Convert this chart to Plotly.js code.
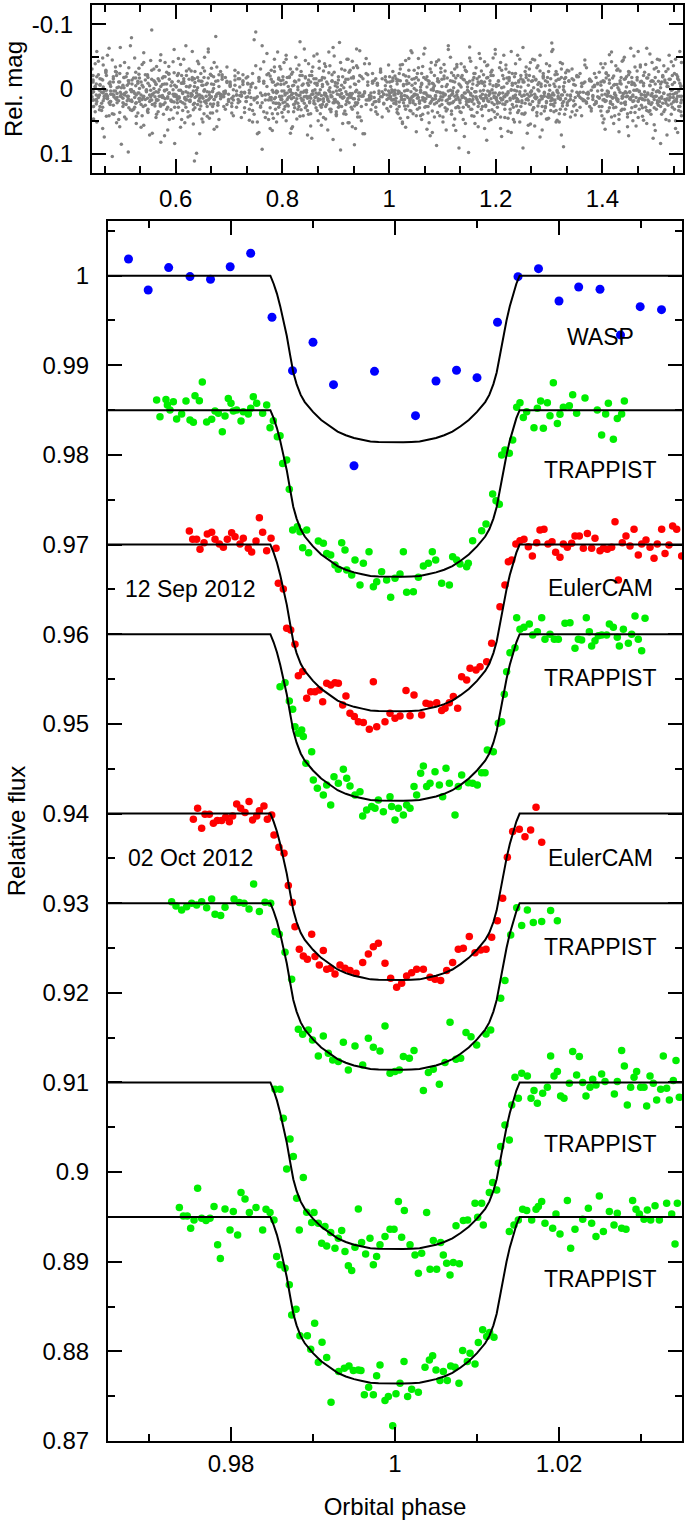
<!DOCTYPE html>
<html><head><meta charset="utf-8">
<script src="https://cdn.plot.ly/plotly-3.0.1.min.js"></script>
<style>html,body{margin:0;padding:0;background:#fff}</style></head>
<body><div id="chart" style="width:689px;height:1520px"></div>
<script>
// ---- Top panel: WASP folded photometry (phase, relative magnitude) ----
const phaseTop = [.443,.445,.446,.449,.451,.452,.455,.457,.458,.461,.463,.464,.466,.469,.47,.472,.475,.477,.478,.481,
.483,.484,.487,.489,.49,.493,.495,.496,.498,.501,.503,.504,.507,.509,.511,.512,.515,.517,.518,.521,
.523,.525,.526,.529,.531,.532,.535,.537,.539,.54,.543,.545,.547,.548,.551,.553,.555,.556,.559,.561,
.563,.564,.567,.569,.571,.572,.575,.577,.579,.58,.583,.585,.587,.588,.591,.593,.595,.597,.598,.601,
.603,.605,.606,.609,.611,.613,.615,.617,.619,.62,.623,.625,.627,.629,.631,.633,.635,.636,.639,.641,
.643,.645,.647,.649,.651,.653,.654,.657,.659,.661,.663,.665,.667,.669,.671,.672,.675,.677,.679,.681,
.684,.687,.69,.693,.696,.699,.702,.705,.708,.711,.714,.717,.72,.723,.726,.729,.732,.735,.738,.741,
.744,.747,.75,.753,.756,.759,.762,.765,.768,.771,.774,.777,.779,.781,.783,.785,.787,.789,.791,.793,
.795,.797,.799,.801,.803,.805,.807,.809,.811,.813,.815,.817,.819,.821,.823,.825,.827,.829,.831,.833,
.835,.837,.839,.841,.843,.845,.847,.849,.851,.853,.855,.857,.859,.861,.863,.865,.867,.869,.871,.873,
.875,.877,.879,.881,.883,.885,.887,.889,.891,.893,.895,.897,.899,.901,.903,.905,.907,.909,.911,.913,
.915,.917,.919,.921,.923,.925,.927,.929,.931,.933,.935,.937,.939,.941,.943,.945,.948,.951,.954,.957,
.96,.963,.966,.969,.972,.975,.978,.981,.984,.987,.99,.993,.996,.999,1.001,1.003,1.005,1.007,1.009,1.011,
1.013,1.015,1.017,1.019,1.021,1.023,1.025,1.027,1.029,1.031,1.033,1.035,1.037,1.039,1.041,1.043,1.045,1.047,1.049,1.051,
1.053,1.055,1.057,1.059,1.061,1.063,1.065,1.067,1.069,1.071,1.073,1.075,1.077,1.079,1.081,1.083,1.085,1.087,1.089,1.091,
1.093,1.095,1.097,1.099,1.101,1.103,1.105,1.107,1.109,1.111,1.113,1.115,1.117,1.119,1.121,1.123,1.125,1.127,1.129,1.131,
1.133,1.135,1.137,1.139,1.141,1.143,1.145,1.147,1.149,1.151,1.153,1.155,1.157,1.159,1.161,1.163,1.165,1.167,1.169,1.171,
1.173,1.175,1.177,1.179,1.181,1.183,1.185,1.187,1.189,1.191,1.193,1.195,1.197,1.199,1.201,1.203,1.205,1.207,1.209,1.211,
1.213,1.215,1.217,1.219,1.221,1.223,1.225,1.227,1.229,1.231,1.233,1.235,1.237,1.239,1.241,1.243,1.245,1.247,1.249,1.251,
1.253,1.255,1.257,1.259,1.261,1.263,1.265,1.267,1.269,1.271,1.273,1.275,1.277,1.279,1.281,1.283,1.285,1.287,1.289,1.291,
1.293,1.295,1.297,1.299,1.301,1.303,1.305,1.307,1.309,1.311,1.313,1.315,1.317,1.319,1.321,1.323,1.325,1.327,1.329,1.331,
1.334,1.337,1.34,1.343,1.346,1.349,1.352,1.355,1.358,1.361,1.364,1.367,1.37,1.373,1.376,1.379,1.382,1.385,1.388,1.391,
1.394,1.397,1.399,1.401,1.403,1.405,1.407,1.409,1.411,1.413,1.415,1.417,1.419,1.421,1.423,1.425,1.427,1.429,1.431,1.433,
1.435,1.437,1.439,1.441,1.443,1.445,1.447,1.449,1.451,1.453,1.455,1.457,1.459,1.461,1.463,1.465,1.467,1.469,1.471,1.473,
1.475,1.477,1.479,1.481,1.483,1.485,1.487,1.489,1.491,1.493,1.495,1.497,1.499,1.501,1.503,1.505,1.507,1.509,1.511,1.513,
1.515,1.517,1.519,1.521,1.523,1.525,1.527,1.529,1.531,1.533,1.535,1.537,1.539,1.541,1.543,1.545,1.547,1.548];

const magA = [.012,-.021,.004,.035,-.008,.019,-.043,.002,.027,-.015,.061,-.003,.014,-.029,.008,-.052,.021,-.011,.003,.038,
-.019,.009,-.034,.016,-.002,.047,-.024,.011,.085,-.006,.023,-.041,.005,.018,-.013,.029,-.067,.001,.033,-.017,
.007,-.026,.042,-.009,.015,-.001,.024,-.038,.012,.056,-.014,.003,-.022,.031,-.005,.017,-.091,.009,-.031,.022,
.004,.039,-.016,.011,-.044,.026,-.007,.013,.072,-.019,.001,.028,-.035,.006,.018,-.011,.045,-.025,.008,-.003,
.021,-.047,.014,.002,-.021,.033,-.009,.052,.017,-.028,.006,-.015,.041,.011,-.058,.024,-.004,.013,.099,-.018,
.009,.031,-.012,.046,-.033,.003,.019,-.007,.027,-.062,.015,.037,-.021,.004,.023,-.041,.011,.058,-.013,.006,
.015,-.022,.008,.031,-.012,.019,-.004,.027,.011,-.029,.003,.021,-.016,.009,-.007,.036,.013,-.019,.006,.024,
-.024,.039,-.088,.012,.067,-.031,.021,-.009,.044,-.055,.017,.029,-.015,.038,.005,-.027,.013,.051,-.008,.022,
-.035,.016,.003,-.019,.031,.009,-.046,.024,-.004,.012,.068,-.023,.007,.035,-.012,.019,-.031,.001,.027,-.073,
.014,-.006,.041,.022,-.017,.005,.033,-.039,.011,.057,-.021,.003,.018,-.009,.029,-.054,.015,.006,.038,-.014,
.024,-.028,.009,.046,-.011,.017,.002,-.036,.031,.012,-.064,.021,-.005,.039,.008,-.019,.026,.094,-.031,.013,
-.002,.034,-.015,.019,.052,-.026,.007,.028,-.043,.015,-.008,.061,.024,-.033,.011,.043,-.019,.069,.006,-.047,
-.011,.017,.006,-.024,.013,.028,-.008,.019,-.031,.004,.022,-.014,.009,.034,-.019,.012,.001,-.027,.016,.007,
.023,-.012,.038,.004,-.031,.016,.051,-.007,.026,-.044,.011,.002,-.019,.033,.014,-.056,.021,.008,-.009,.041,
-.024,.013,.029,-.003,.047,-.035,.006,.019,-.015,.062,.027,-.008,.011,-.041,.034,.002,-.021,.015,.087,-.012,
.018,.005,-.032,.024,.043,-.016,.009,-.004,.031,-.067,.014,.022,-.025,.007,.056,-.011,.029,-.038,.003,.017,
-.006,.036,-.021,.012,.073,-.029,.019,-.003,.027,-.048,.009,.041,-.014,.023,.004,-.033,.016,.058,-.019,.011,
.031,-.009,.002,-.042,.025,.014,-.018,.049,.007,-.026,.021,-.005,.035,-.061,.013,.028,-.012,.006,.043,-.029,
.016,-.003,.024,-.037,.009,.065,-.018,.031,.001,-.024,.047,.012,-.009,.026,-.052,.019,.004,-.016,.038,.091,
-.011,.022,-.034,.008,.017,-.021,.054,.003,-.013,.029,-.045,.015,.036,-.007,.021,-.028,.011,.063,-.017,.005,
.027,-.039,.012,.045,-.006,.018,-.071,.024,.009,-.022,.033,.002,-.015,.051,.014,-.031,.026,-.004,.039,-.018,
.021,-.028,.009,.035,-.014,.024,.005,-.019,.013,.041,-.009,.018,-.033,.007,.027,-.012,.016,-.004,.022,.003,
-.026,.034,.009,-.013,.046,-.039,.018,.003,-.021,.029,.011,-.057,.024,-.006,.041,.013,-.029,.019,.066,-.009,
.022,-.043,.007,.031,-.016,.012,.058,-.027,.004,.036,-.011,.019,-.051,.027,.002,-.018,.044,.015,-.034,.009,
.029,-.005,.017,-.038,.053,.008,-.022,.033,-.012,.021,.076,-.031,.011,.004,-.046,.025,.014,-.008,.039,-.019,
.006,.032,-.027,.015,-.004,.049,-.015,.023,.001,-.036,.018,.061,-.022,.011,.027,-.009,.035,-.041];

const magB = [-.031,.017,.046,-.004,.023,-.058,.011,.032,-.016,.005,.028,-.037,.074,.009,-.021,.014,.041,-.007,.019,-.045,
.025,.003,-.027,.052,.013,-.011,.036,-.064,.008,.021,-.002,.043,-.019,.011,.097,-.033,.018,.004,-.014,.031,
-.048,.022,.009,.037,-.023,.014,.059,-.006,.027,-.041,.016,.002,.034,-.018,.071,.012,-.029,.024,.006,-.011,
.044,-.035,.017,.001,.026,-.053,.013,.039,-.008,.021,-.026,.063,.007,-.015,.032,.019,-.042,.011,.084,-.004,
-.021,.028,.012,-.038,.047,.005,-.012,.023,-.067,.016,.035,-.003,.019,-.028,.009,.054,-.016,.029,.002,-.043,
.018,.069,-.024,.011,-.006,.038,-.049,.022,.004,-.017,.045,.013,-.032,.027,-.001,.016,-.081,.034,.007,-.022,
-.027,.012,.004,-.018,.024,.008,-.011,.037,.017,-.006,.028,-.016,.010,.044,-.022,.005,.019,-.009,.031,-.003,
.033,-.076,.014,.051,-.018,.026,.093,-.042,.008,.037,-.024,.061,.017,-.011,.045,-.034,.022,.003,-.057,.028,
.012,-.013,.036,.021,-.041,.007,.049,-.018,.026,.002,-.031,.015,.058,-.006,.023,-.049,.009,.031,-.014,.042,
-.027,.018,.005,-.062,.029,.011,-.009,.039,-.021,.014,.076,-.034,.022,.001,-.016,.033,.008,-.043,.025,.056,
-.007,.019,-.039,.027,.011,.063,-.025,.004,.035,-.013,.021,-.051,.016,.041,-.003,.028,-.072,.012,.007,-.019,
.038,-.011,.024,-.046,.014,.052,-.029,.009,.031,-.017,.086,.021,-.036,.043,.006,-.059,.027,.011,.069,-.024,
.017,-.039,.011,.024,-.013,.035,-.006,.016,-.026,.043,.008,-.019,.030,.003,-.011,.015,.005,-.017,.022,.009,
-.016,.031,.007,-.024,.045,.012,-.038,.021,.003,.059,-.013,.026,-.047,.016,.034,-.006,.018,-.029,.009,.066,
.014,-.033,.022,.041,-.009,.017,-.054,.028,.006,-.019,.037,.011,.072,-.026,.015,-.002,.043,-.037,.021,.004,
-.045,.026,.012,-.015,.051,.008,-.028,.034,.017,-.061,.023,.002,.039,-.012,.019,-.031,.064,.009,-.021,.029,
.035,-.018,.013,.047,-.034,.006,.024,-.009,.098,.016,-.043,.031,.011,-.024,.053,.004,-.016,.027,-.055,.012,
-.028,.041,.015,-.011,.027,.079,-.037,.019,.004,-.021,.032,-.048,.013,.044,-.007,.022,.009,-.033,.061,.017,
.023,-.052,.031,.008,-.017,.045,-.026,.014,.067,-.009,.028,.002,-.039,.019,.036,-.013,.051,-.021,.011,-.064,
.009,.037,-.022,.016,.056,-.031,.024,.003,-.046,.029,.013,-.014,.041,-.036,.018,.074,-.008,.027,-.019,.034,
-.013,.021,.046,-.027,.011,.033,-.058,.017,.026,-.004,.051,-.023,.014,.038,-.041,.009,.022,.089,-.016,.031,
-.029,.018,.043,-.016,.026,-.006,.033,.010,-.024,.015,.005,-.037,.020,.008,-.013,.030,-.003,.024,-.018,.012,
.014,-.039,.027,.052,-.011,.019,-.024,.035,.006,-.053,.022,.043,-.017,.029,.008,-.036,.015,-.002,.047,-.028,
.033,.011,-.045,.021,.004,-.019,.038,.072,-.026,.013,-.007,.049,.018,-.034,.026,.001,-.058,.031,.014,-.012,
.042,-.021,.009,.028,-.063,.017,.035,-.006,.024,-.041,.012,.055,-.018,.031,.003,-.027,.019,.084,-.011,.022,
-.036,.016,.047,-.009,.025,-.052,.013,.039,-.021,.008,.031,-.046,.019,.067,-.014,.027,-.004,.041];

const magC = [.006,-.014,.027,-.039,.016,.051,-.022,.009,-.006,.033,-.048,.018,.003,-.027,.042,.011,-.063,.024,.008,.104,
-.011,.039,.014,-.026,.021,-.003,.058,-.036,.012,.027,-.018,.007,.046,-.024,.015,-.009,.032,-.079,.019,.004,
.028,-.017,.053,.006,-.032,.019,-.011,.041,.013,-.056,.025,.001,-.021,.036,.009,-.044,.017,.068,-.013,.026,
-.008,.016,.035,-.029,.011,.082,-.017,.024,.002,-.041,.031,.014,-.023,.047,-.005,.019,.008,-.061,.028,.012,
.037,-.024,.013,.059,-.009,.021,-.046,.015,.028,-.004,.043,-.031,.017,.007,-.018,.032,.111,-.027,.011,.024,
-.039,.014,.026,-.012,.051,.003,-.028,.018,.042,-.057,.009,.023,-.008,.037,-.019,.062,.012,-.034,.021,.047,
.011,-.019,.027,.006,-.034,.016,-.008,.022,.041,-.014,.009,-.025,.019,.005,-.011,.029,-.017,.012,.048,-.007,
.051,.017,-.036,.069,-.012,.028,-.067,.035,.009,-.022,.047,.013,-.029,.064,.021,-.046,.031,.006,.038,-.015,
.024,-.031,.011,.043,-.008,.027,-.052,.016,.035,-.019,.004,.061,-.026,.013,.029,-.011,.046,.022,-.037,.009,
.032,-.021,.017,.003,-.044,.026,.071,-.014,.019,.038,-.027,.008,-.051,.023,.012,-.006,.049,-.032,.016,.028,
-.018,.044,.006,-.035,.024,.015,-.057,.031,.009,-.012,.078,-.026,.019,.035,-.009,.022,.002,-.041,.027,.053,
.013,-.029,.039,.008,-.046,.021,.011,-.017,.058,-.033,.026,.004,-.062,.037,.016,-.021,.049,.009,-.039,.024,
-.022,.014,.032,-.009,.020,-.016,.039,.007,-.028,.012,.023,-.005,.016,-.037,.010,.027,-.012,.017,.003,-.020,
.019,.036,-.014,.027,-.037,.011,.053,-.022,.016,.031,-.008,.044,-.029,.021,-.059,.012,.038,-.016,.024,.002,
.031,-.047,.018,.005,-.024,.039,.014,-.063,.027,.009,-.013,.052,-.031,.019,.067,-.008,.023,.011,-.042,.036,
-.012,.041,-.026,.017,.006,-.038,.029,.063,-.017,.022,.011,-.049,.034,.003,-.021,.046,.016,-.034,.027,.091,
.021,-.039,.011,.028,-.014,.053,-.027,.017,.004,-.065,.031,.019,-.008,.042,-.024,.013,.036,-.011,.022,-.047,
.014,.027,-.022,.061,.009,-.036,.018,.033,-.013,.047,-.029,.006,.024,-.054,.016,.039,-.006,.021,-.041,.073,
-.021,.012,.044,-.031,.019,.006,-.016,.037,-.058,.024,.011,.051,-.024,.014,-.004,.033,-.046,.027,.018,-.011,
.039,-.027,.016,.068,-.014,.023,-.041,.009,.032,-.019,.057,.012,-.033,.026,.003,-.052,.038,.015,-.024,.011,
.029,.046,-.018,.013,-.036,.024,.009,-.061,.035,.017,-.027,.048,.006,-.015,.031,.071,-.039,.019,.004,-.025,
.025,-.013,.011,-.031,.018,.040,-.021,.007,.028,-.009,.016,-.045,.022,.005,-.015,.034,.010,-.024,.019,-.008,
.027,-.011,.041,-.033,.016,.062,-.025,.009,.034,-.014,.021,-.042,.013,.053,-.007,.028,.017,-.031,.039,.005,
-.018,.031,.012,-.049,.024,.006,.043,-.022,.015,-.063,.029,.011,-.009,.036,.057,-.028,.019,.004,-.037,.025,
.016,.048,-.026,.011,.033,-.017,.022,-.054,.039,.007,-.012,.029,.064,-.033,.018,.003,-.045,.027,.012,-.021,
.035,-.014,.022,.071,-.031,.017,.008,-.042,.028,.013,-.024,.049,.006,-.019,.033,-.058,.021,.011];

const magD = [.004,-.011,.017,-.003,.009,-.019,.013,.001,-.007,.022,-.014,.006,.011,-.025,.002,.015,-.009,.019,-.004,.008,
-.016,.012,.003,-.021,.007,.018,-.011,.005,-.002,.014,-.018,.009,.024,-.006,.011,-.013,.001,.017,-.008,.004,
.013,-.005,.021,-.012,.006,-.017,.009,.016,-.003,.011,-.022,.004,.014,-.009,.019,.002,-.015,.008,-.001,.012,
-.007,.018,.005,-.013,.023,-.004,.010,-.019,.003,.015,-.008,.012,-.024,.006,.017,-.011,.001,.020,-.006,.009,
.016,-.012,.002,.019,-.009,.007,-.016,.013,.004,-.021,.011,.018,-.005,.008,-.014,.003,.022,-.010,.006,-.002,
-.013,.009,.020,-.006,.014,-.018,.001,.011,-.009,.017,.005,-.023,.012,.003,-.007,.016,-.012,.008,.025,-.004,
.008,-.015,.012,.003,-.010,.018,-.006,.014,.001,-.020,.009,.016,-.003,.011,-.013,.006,.019,-.008,.002,.013,
-.009,.014,-.002,.021,-.016,.006,.010,-.012,.017,-.004,.008,-.020,.013,.002,-.011,.015,-.006,.022,.004,-.017,
.011,-.007,.016,-.014,.003,.020,-.010,.006,.013,-.018,.001,.009,-.005,.024,-.012,.007,.015,-.003,.010,-.021,
.005,.017,-.008,.012,-.019,.002,.014,-.006,.021,-.011,.008,.003,-.016,.013,.006,-.009,.018,-.013,.001,.010,
-.004,.015,-.017,.007,.011,-.008,.019,-.002,.012,-.022,.005,.016,-.010,.003,.020,-.014,.009,.001,-.006,.014,
.012,-.010,.004,.018,-.015,.009,-.003,.013,.007,-.019,.015,-.007,.002,.021,-.012,.006,.011,-.016,.004,.017,
-.006,.010,.015,-.012,.005,.019,-.009,.003,.012,-.016,.008,.001,-.011,.014,.006,-.004,.017,-.013,.009,.002,
.014,-.008,.003,.020,-.013,.007,.016,-.005,.010,-.020,.002,.013,-.009,.018,.004,-.015,.011,-.001,.008,-.018,
.009,-.014,.019,.002,-.007,.013,-.018,.006,.015,-.003,.011,-.012,.022,.001,-.009,.016,-.005,.010,.004,-.016,
-.011,.016,.006,-.004,.012,-.020,.008,.018,-.007,.003,.014,-.013,.009,.021,-.002,.011,-.017,.005,.013,-.008,
.017,-.003,.010,-.015,.006,.014,-.010,.002,.019,-.012,.007,-.001,.016,-.018,.004,.012,-.006,.020,-.009,.003,
-.012,.008,.018,-.005,.013,-.017,.003,.010,-.008,.015,.001,-.021,.011,.006,-.004,.019,-.013,.007,.014,-.002,
.006,-.016,.012,.020,-.009,.004,-.013,.017,.002,-.006,.014,-.019,.009,.003,.016,-.011,.008,-.003,.021,-.014,
.010,.003,-.018,.015,-.006,.011,.005,-.012,.019,-.002,.008,-.015,.013,.001,-.010,.017,-.004,.012,-.020,.007,
-.005,.019,-.011,.008,.002,-.016,.014,.006,-.008,.021,-.013,.004,.011,-.003,.016,-.018,.009,.001,-.010,.015,
.009,-.012,.016,.003,-.007,.013,-.019,.010,.005,-.004,.018,-.011,.007,.014,-.015,.002,.012,-.006,.020,-.009,
.013,-.006,.002,.017,-.012,.008,-.017,.011,.004,-.009,.019,-.002,.014,-.020,.006,.010,-.007,.016,.001,-.013,
-.008,.014,.007,-.015,.020,-.003,.011,-.010,.005,.016,-.018,.009,.002,-.006,.013,-.014,.018,.003,-.011,.008,
.015,-.009,.004,.012,-.017,.006,.019,-.005,.010,-.013,.001,.016,-.008,.011,.022,-.012,.005,-.002,.014,-.019,
.007,-.011,.018,-.004,.009,-.015,.013,.002,-.007,.020,-.010,.006,.015,-.016,.003,.011,-.005,.017];

const topTickVals = [-0.1, 0, 0.1];
const topTickText = ["-0.1", "0", "0.1"];

// ---- Bottom panel: transit light curves (orbital phase, relative flux) ----
const waspPhase = [0.9675,0.9699,0.9724,0.975,0.9775,0.9799,0.9824,0.985,0.9875,0.99,0.9925,0.995,0.9975,1.0025,1.005,1.0075,1.01,1.0125,1.015,1.0175,1.02,1.0224,1.025,1.0275,1.0299,1.0325];
const waspFlux = [1.00186,0.9984,1.0009,0.9999,0.9996,1.001,1.0025,0.99536,0.9894,0.99257,0.98784,0.9788,0.98933,0.98438,0.98825,0.98945,0.98862,0.9948,0.99989,1.00078,0.99718,0.99874,0.99848,0.99339,0.99654,0.99621];

const trap1Phase = [0.97093,0.97134,0.97207,0.97224,0.97256,0.97297,0.97337,0.97398,0.97451,0.975,0.97541,0.97561,0.97614,0.9765,0.97703,0.97764,0.97805,0.97846,0.97894,0.97927,0.97967,0.98,0.98028,0.98069,0.98122,0.9815,0.98211,0.9824,0.98272,0.98313,0.98386,0.98435,0.98476,0.98516,0.98565,0.98598,0.9863,0.98679,
0.98711,0.98752,0.98809,0.98841,0.98874,0.98923,0.98947,0.99065,0.99126,0.99167,0.99216,0.99268,0.99309,0.9935,0.9939,0.99411,0.99472,0.99512,0.99573,0.99614,0.99683,0.99736,0.99777,
0.99837,0.99898,0.99947,1.0,1.00061,1.00102,1.00142,1.00224,1.00285,1.00346,1.00407,1.00455,1.00496,1.00569,1.00663,1.00703,1.00752,1.00793,1.00874,1.00894,1.00947,1.01057,1.0111,1.01191,1.01232,1.01272,
1.01301,1.01341,1.01394,1.01435,1.01484,1.01524,1.01565,1.01606,1.01695,1.01736,1.01776,1.01809,1.01858,1.0189,1.01931,1.0198,1.02012,1.02053,1.02126,1.02167,1.02215,1.02317,1.02467,1.0252,1.02569,1.02602,1.02663,1.02711,1.02764,1.02797];
const trap1Flux = [0.98613,0.98427,0.9862,0.98557,0.98501,0.98594,0.98401,0.98456,0.98602,0.9839,0.98364,0.98661,0.98605,0.98813,0.98367,0.98397,0.9849,0.98464,0.98259,0.98434,0.98631,0.98576,0.9849,0.98501,0.98378,0.98483,0.98456,0.9852,0.9865,0.98576,0.98464,0.98557,0.98304,0.98382,0.98204,0.98215,0.97906,0.97943,
0.97616,0.97163,0.972,0.97144,0.96966,0.97163,0.9691,0.9704,0.97014,0.96902,0.96884,0.96772,0.96724,0.97021,0.9694,0.96717,0.96661,0.96828,0.96549,0.96791,0.96921,0.96531,0.96586,
0.96698,0.96605,0.96412,0.96624,0.96672,0.96921,0.96467,0.96475,0.96635,0.96761,0.96791,0.96921,0.96828,0.96568,0.96549,0.96865,0.96828,0.96783,0.96754,0.96791,0.97044,0.97155,0.9723,0.97564,0.9749,0.97449,
0.97999,0.98055,0.98018,0.98167,0.98531,0.98583,0.98419,0.98483,0.98304,0.9852,0.98602,0.98297,0.98583,0.98438,0.98806,0.98352,0.98453,0.98531,0.9855,0.98672,0.98464,0.98635,0.98501,0.98222,0.98456,0.98576,0.98174,0.98408,0.98456,0.98602];

const euler1Phase = [0.97492,0.97533,0.97581,0.97622,0.97671,0.97711,0.97764,0.97805,0.97858,0.97907,0.97955,0.98008,0.98049,0.9811,0.9815,0.98211,0.98252,0.98305,0.98346,0.98386,0.98435,0.98488,0.98549,
0.98577,0.98638,0.98679,0.98728,0.9878,0.98821,0.98874,0.98923,0.98972,0.99024,0.99077,0.99118,0.99167,0.99216,0.99268,0.99309,0.99362,0.99402,0.99451,0.99504,0.99553,0.99614,0.99687,0.99736,0.99777,
0.99878,0.99939,1.0,1.00061,1.00134,1.00183,1.00232,1.00325,1.00378,1.00427,1.00508,1.00569,1.0061,1.00663,1.00711,1.00764,1.00813,1.00874,1.00915,1.00988,1.01037,1.01118,1.01179,1.0128,1.01341,1.01382,1.01423,
1.01474,1.01524,1.01573,1.01626,1.01675,1.01728,1.01768,1.01817,1.01866,1.01915,1.01959,1.02012,1.02053,1.02102,1.02154,1.02195,1.02248,1.02297,1.02346,1.02398,1.02439,1.025,1.02541,1.02589,1.02642,1.02683,1.02724,1.02772,1.02817,1.02866,1.02915,1.02967,1.03008,1.03061,1.0311,1.03159,1.03199,1.03252,1.03293,1.03341,1.03386,1.03435,1.03496];
const euler1Flux = [0.97152,0.97059,0.97059,0.96947,0.97021,0.97118,0.97137,0.97059,0.97007,0.96969,0.97059,0.97133,0.97088,0.97007,0.9707,0.96958,0.96917,0.9704,0.973,0.97137,0.96932,0.9707,0.96958,
0.96568,0.96505,0.96066,0.96047,0.95887,0.95538,0.95583,0.95285,0.95359,0.95359,0.95378,0.95248,0.95452,0.95434,0.9546,0.95452,0.95211,0.95311,0.95118,0.95081,0.95025,0.95014,0.94939,0.95471,0.94969,
0.95025,0.95118,0.95062,0.95088,0.95371,0.95092,0.95322,0.95099,0.95229,0.95218,0.95237,0.95148,0.95174,0.95237,0.95304,0.95174,0.95527,0.9549,0.9562,0.95601,0.95638,0.95694,0.95899,0.96308,0.96549,0.9681,0.96828,
0.97007,0.97044,0.97059,0.96977,0.96873,0.97021,0.97163,0.9717,0.97007,0.97033,0.96914,0.96858,0.97007,0.96969,0.97014,0.97096,0.97096,0.96958,0.97125,0.96958,0.9707,0.96932,0.96958,0.96947,0.96969,0.97256,0.96605,0.97021,0.97096,0.96984,0.9717,0.96884,0.97007,0.97051,0.96969,0.96847,0.97007,0.9717,0.96902,0.96995,0.97207,0.9717,0.96873];

const trap2Phase = [0.98598,0.98659,0.98711,0.98752,0.9878,0.98821,0.98862,0.98882,0.98913,0.98984,0.99004,0.99053,0.99126,0.99167,0.99216,0.99256,0.99309,0.9937,0.99411,0.99451,0.99512,0.99573,0.99606,0.99654,0.99715,0.99756,0.99797,0.99858,0.99939,0.99959,
1.0,1.00041,1.00102,1.00142,1.00183,1.00232,1.00264,1.00313,1.00346,1.00386,1.00427,1.00488,1.00541,1.00581,1.00622,1.00663,1.00732,1.00772,1.00813,1.00894,1.00947,1.01004,1.01057,1.01098,1.01126,1.01199,1.0126,1.01301,1.01333,1.01362,
1.01402,1.01463,1.01484,1.01524,1.01573,1.01638,1.01679,1.01736,1.01789,1.01829,1.0189,1.01943,1.01992,1.02073,1.02134,1.02195,1.02236,1.02276,1.02333,1.0237,1.02398,1.02439,1.0248,1.0252,1.02581,1.02614,1.02663,1.02711,1.02736,1.02785,1.02846,1.02886,1.02927,1.02967,1.03008,1.03049];
const trap2Flux = [0.95415,0.9546,0.95255,0.95162,0.94969,0.94895,0.94932,0.94858,0.9456,0.9469,0.94374,0.94281,0.94207,0.94318,0.94095,0.94411,0.94337,0.94493,0.94393,0.94307,0.94207,0.94244,0.93973,0.9404,0.94077,0.94058,0.94151,0.94021,0.94188,0.94077,
0.93928,0.94058,0.93984,0.94095,0.94058,0.943,0.94207,0.94449,0.9453,0.943,0.94337,0.94467,0.94318,0.94188,0.94504,0.94337,0.93984,0.943,0.9443,0.94344,0.94337,0.94318,0.94456,0.94456,0.94709,0.9469,0.95006,0.95025,0.9533,0.95582,
0.95794,0.9585,0.96185,0.96055,0.96077,0.96114,0.95992,0.96029,0.96185,0.95943,0.96,0.95943,0.95943,0.96122,0.96129,0.95843,0.95943,0.95936,0.96185,0.96029,0.95869,0.95928,0.95984,0.95992,0.95992,0.96114,0.96077,0.95966,0.95869,0.96055,0.95899,0.96,0.96204,0.95943,0.95817,0.96178];

const euler2Phase = [0.97541,0.97593,0.97642,0.97683,0.97736,0.97785,0.97833,0.97886,0.97935,0.9798,0.9802,0.98069,0.98118,0.98171,0.9822,0.98264,0.98313,0.98346,0.98402,0.98443,0.98496,
0.98524,0.98585,0.98646,0.98699,0.98748,0.9878,0.98833,0.98882,0.98931,0.98984,0.99024,0.99077,0.99126,0.99167,0.99216,0.99268,0.99329,0.9939,0.99451,0.99525,0.99606,0.99675,0.99736,0.99797,0.99878,0.99947,
1.0002,1.00081,1.00142,1.00203,1.00264,1.00346,1.00427,1.00488,1.00557,1.0063,1.00703,1.00772,1.00833,1.00906,1.00976,1.01045,1.0111,1.01179,1.01248,1.01313,1.0137,1.01435,1.01516,1.01585,1.01654,1.0172,1.01789];
const euler2Flux = [0.93935,0.94058,0.93835,0.93991,0.93991,0.93891,0.93921,0.93921,0.93958,0.93909,0.93973,0.94107,0.94058,0.9401,0.94133,0.93928,0.93973,0.94032,0.94084,0.93935,0.93984,
0.93761,0.93623,0.93556,0.93196,0.93006,0.92738,0.92485,0.92411,0.92374,0.92653,0.92404,0.92311,0.92471,0.92262,0.92274,0.9221,0.92311,0.92274,0.92248,0.92218,0.92337,0.92433,0.92515,0.92553,0.92329,0.92162,
0.92062,0.92106,0.92188,0.92225,0.92262,0.92262,0.92173,0.92151,0.92136,0.92248,0.92337,0.92485,0.92497,0.92627,0.92448,0.92478,0.92485,0.92619,0.92805,0.93054,0.93512,0.93798,0.93824,0.93742,0.93817,0.94069,0.93679];

const trap3Phase = [0.97276,0.97329,0.97398,0.97459,0.9752,0.97581,0.97642,0.97703,0.97764,0.97805,0.97874,0.97927,0.98037,0.98102,0.98159,0.9822,0.98276,0.98346,0.98415,0.98484,
0.98537,0.98589,0.98659,0.9874,0.98821,0.98874,0.98943,0.98994,0.99065,0.99126,0.99187,0.9924,0.99309,0.9937,0.99431,0.99512,0.99606,0.99675,0.99736,0.99817,
0.99878,0.99939,1.0,1.00053,1.00102,1.00175,1.00232,1.00346,1.00407,1.00467,1.00541,1.0061,1.00671,1.00744,1.00801,1.00866,1.00927,1.00996,1.0111,1.01167,
1.01289,1.01341,1.01411,1.01484,1.01545,1.01614,1.01687,1.01789,1.01898,1.0198];
const trap3Flux = [0.93017,0.92969,0.92924,0.92961,0.92999,0.9298,0.93017,0.9295,0.93047,0.92876,0.92861,0.92954,0.93047,0.93006,0.92999,0.92935,0.93214,0.92906,0.9301,0.92999,
0.92682,0.92653,0.92452,0.92151,0.91593,0.91537,0.91586,0.91474,0.91296,0.91519,0.91326,0.91251,0.91233,0.91448,0.9114,0.91407,0.91195,0.91493,0.91393,0.91352,
0.9163,0.91103,0.91121,0.9114,0.91288,0.9127,0.91355,0.90909,0.9111,0.91147,0.9098,0.91222,0.91671,0.91259,0.9127,0.91556,0.91511,0.91418,0.91541,0.91586,
0.91939,0.92136,0.92645,0.9295,0.9275,0.92924,0.92783,0.92794,0.92917,0.92805];

const trap4Phase = [0.98537,0.98598,0.98638,0.98679,0.9872,0.9876,0.98801,0.98833,0.98882,0.98923,0.98984,0.99012,0.99065,0.99106,0.99146,0.99167,0.99216,0.99268,0.99309,0.9935,
0.9939,0.99431,0.99472,0.99512,0.99553,0.99593,0.99642,0.99695,0.99736,0.99776,0.99817,0.99878,0.99939,0.99988,1.00041,1.00081,1.00114,1.00183,1.00244,1.00285,
1.00325,1.00386,1.00427,1.00467,1.00508,1.00557,1.00589,1.0063,1.00671,1.00711,1.00744,1.00785,1.00833,1.00886,1.00976,1.01008,1.01057,1.01077,1.0115,1.01191,
1.0124,1.0126,1.01289,1.01341,1.01394,1.01423,1.01463,1.01504,1.01545,
1.01614,1.01659,1.01695,1.01736,1.01801,1.01858,1.01898,1.01939,1.0198,1.0202,1.02061,1.02126,1.02167,1.02215,1.02248,1.02289,1.02329,1.02378,1.02411,1.02451,
1.0252,1.02561,1.02675,1.02711,1.02764,1.02797,1.02833,1.02874,1.02915,1.02947,1.02996,1.03037,1.03069,1.0311,1.0315,1.03191,1.0324,1.03272,1.03313,1.03346,1.03394,1.03427,1.03467];
const trap4Flux = [0.90924,0.90924,0.90601,0.90035,0.9037,0.90173,0.89708,0.89355,0.89939,0.89552,0.89437,0.89548,0.89429,0.89206,0.89392,0.89176,0.89325,0.8915,0.89262,0.89347,
0.89113,0.88954,0.88902,0.89162,0.89589,0.89214,0.89087,0.89262,0.88965,0.89057,0.89188,0.89281,0.89362,0.89362,0.89671,0.89273,0.89571,0.89188,0.89076,0.88872,
0.89095,0.89548,0.88916,0.89236,0.88916,0.89214,0.89076,0.88983,0.88853,0.88991,0.894,0.88976,0.89459,0.89466,0.89652,0.89496,0.89652,0.89411,0.89771,0.89883,
0.89801,0.90099,0.90285,0.90526,0.90359,0.90749,0.91058,0.90824,0.91103,
0.91073,0.90824,0.90909,0.90768,0.90879,0.90946,0.91296,0.91073,0.91121,0.9085,0.90824,0.90991,0.91344,0.91084,0.91288,0.90998,0.9085,0.90946,0.91036,0.90972,
0.91095,0.9101,0.90872,0.9101,0.91355,0.91184,0.90749,0.90946,0.91058,0.91121,0.90946,0.90946,0.90738,0.91073,0.90991,0.90805,0.90924,0.91296,0.90935,0.90805,0.91021,0.91244,0.90835];

const trap5Phase = [0.9737,0.97419,0.97467,0.97508,0.97549,0.97593,0.97642,0.97695,0.97744,0.97793,0.97837,0.9787,0.97927,0.97988,0.98028,0.98081,0.98122,0.98171,0.98224,0.98305,0.98386,0.98427,0.98476,0.98524,
0.98557,0.98598,0.98659,0.98711,0.9874,0.98793,0.98841,0.98931,0.98972,0.9902,0.99065,0.9911,0.99167,0.9922,0.99313,0.99382,0.99439,0.99492,0.99553,0.99585,0.99626,0.99679,0.99736,0.99776,0.99817,0.99878,
0.99919,0.99972,1.00012,1.00061,1.0011,1.00154,1.00203,1.00285,1.00366,1.00419,1.00459,1.005,1.00549,1.00589,1.00638,1.00679,1.00732,1.0078,1.00825,1.00882,1.00915,1.00976,1.01016,1.01069,1.01118,1.01154,1.01207,
1.01394,1.01451,1.01504,1.01557,1.01606,1.01667,1.0172,1.01748,1.01789,1.01829,1.01923,1.01963,1.02012,1.02102,1.02142,1.02195,1.02289,1.02358,1.02398,1.02451,1.02492,1.02541,1.02614,
1.02671,1.02711,1.02764,1.02817,1.02898,1.02939,1.0298,1.03037,1.03077,1.03118,1.03171,1.03224,1.03313,1.03374,1.03415,1.03443];
const trap5Flux = [0.89604,0.89511,0.89511,0.89373,0.89466,0.8982,0.89485,0.89459,0.89485,0.89615,0.89188,0.89035,0.89589,0.89355,0.8956,0.89299,0.89771,0.89701,0.89548,0.89604,0.89355,0.89585,0.89548,0.89466,
0.89058,0.88965,0.88928,0.88742,0.88407,0.8847,0.88173,0.88173,0.88024,0.88314,0.87879,0.88102,0.87931,0.87433,0.87775,0.87812,0.87838,0.87786,0.87793,0.87786,0.87515,0.876,0.87515,0.87727,0.87849,0.87451,
0.87496,0.87169,0.87526,0.87645,0.87887,0.87496,0.87578,0.87544,0.87823,0.87905,0.8795,0.87793,0.87675,0.87775,0.87675,0.87838,0.87823,0.87645,0.88009,0.87887,0.87979,0.8786,0.88098,0.8824,0.88165,0.8821,0.88158,
0.89336,0.89411,0.89466,0.89585,0.89571,0.89466,0.89585,0.89615,0.89671,0.89429,0.89373,0.89533,0.8931,0.89682,0.89151,0.89362,0.89474,0.89597,0.89429,0.89281,0.89734,0.89336,0.8956,
0.89411,0.89541,0.89373,0.89362,0.89682,0.89585,0.89533,0.89474,0.89578,0.89466,0.89623,0.89466,0.89652,0.89533,0.89199,0.89652];

// Fitted transit model: shape (flux change vs phase) and the baseline of each curve
const modelPhase = [0.965,0.9848,0.9852,0.9856,0.986,0.9864,0.9868,0.9872,0.9876,0.988,0.9885,0.989,0.9895,0.99,0.991,0.992,0.993,0.994,0.995,0.996,0.997,0.998,0.999,1.0,
1.001,1.002,1.003,1.004,1.005,1.006,1.007,1.008,1.009,1.01,1.0105,1.011,1.0115,1.012,1.0124,1.0128,1.0132,1.0136,1.014,1.0144,1.0148,1.0152,1.035];
const modelDepth = [0,0,-0.0009,-0.002,-0.0034,-0.005,-0.0067,-0.0088,-0.0108,-0.0121,-0.0133,-0.0141,-0.0147,-0.0152,-0.0161,-0.0168,-0.0174,-0.0178,-0.0181,-0.0183,-0.0185,-0.01855,-0.01858,-0.0186,
-0.01858,-0.01855,-0.0185,-0.0183,-0.0181,-0.0178,-0.0174,-0.0168,-0.0161,-0.0152,-0.0147,-0.0141,-0.0133,-0.0121,-0.0108,-0.0088,-0.0067,-0.005,-0.0034,-0.002,-0.0009,0,0];
const modelBaselines = [1.0, 0.985, 0.97, 0.96, 0.94, 0.93, 0.91, 0.895];

const instrumentLabels = ["WASP","TRAPPIST","EulerCAM","TRAPPIST","EulerCAM","TRAPPIST","TRAPPIST","TRAPPIST"];
const instrumentLabelFlux = [0.99316,0.97833,0.96516,0.95513,0.93505,0.92512,0.90315,0.88809];
const dateLabels = ["12 Sep 2012","02 Oct 2012"];
const dateLabelFlux = [0.96505,0.93505];

// ---- Build traces ----
const GREEN = 'rgb(0,238,0)', RED = 'rgb(255,0,0)', BLUE = 'rgb(0,0,255)', GREY = 'rgb(128,128,128)';
const traces = [];
[magA, magB, magC, magD].forEach(m => traces.push({
  type:'scatter', mode:'markers', x: phaseTop, y: m, xaxis:'x', yaxis:'y',
  marker:{size:3.5, color:GREY}, hoverinfo:'skip'
}));
const bottomSets = [
  [waspPhase, waspFlux, BLUE, 9],
  [trap1Phase, trap1Flux, GREEN, 7.5],
  [euler1Phase, euler1Flux, RED, 7.5],
  [trap2Phase, trap2Flux, GREEN, 7.5],
  [euler2Phase, euler2Flux, RED, 7.5],
  [trap3Phase, trap3Flux, GREEN, 7.5],
  [trap4Phase, trap4Flux, GREEN, 7.5],
  [trap5Phase, trap5Flux, GREEN, 7.5]
];
bottomSets.forEach(s => traces.push({
  type:'scatter', mode:'markers', x: s[0], y: s[1], xaxis:'x2', yaxis:'y2',
  marker:{size:s[3], color:s[2]}
}));
modelBaselines.forEach(b => traces.push({
  type:'scatter', mode:'lines', x: modelPhase, y: modelDepth.map(d => b + d), xaxis:'x2', yaxis:'y2',
  line:{color:'black', width:2}
}));

const annotations = [];
instrumentLabels.forEach((t,i) => annotations.push({
  text:t, x:1.025, y:instrumentLabelFlux[i], xref:'x2', yref:'y2', showarrow:false,
  xanchor:'center', yanchor:'middle', font:{size:23, color:'black'}
}));
dateLabels.forEach((t,i) => annotations.push({
  text:t, x:0.975, y:dateLabelFlux[i], xref:'x2', yref:'y2', showarrow:false,
  xanchor:'center', yanchor:'middle', font:{size:23, color:'black'}
}));

const axBase = {
  showline:true, linewidth:2, linecolor:'black', mirror:'ticks', showgrid:false, zeroline:false,
  ticks:'inside', ticklen:14, tickwidth:2, tickcolor:'black', ticklabelstandoff:12,
  tickfont:{size:24, color:'black'}
};
const layout = {
  width:689, height:1520, margin:{l:0, r:0, t:0, b:0}, showlegend:false,
  paper_bgcolor:'white', plot_bgcolor:'white',
  font:{family:'"Liberation Sans", Arial, sans-serif', size:24, color:'black'},
  xaxis: Object.assign({}, axBase, {
    domain:[0.13353, 0.99129], range:[0.443, 1.551], anchor:'y',
    tickmode:'linear', tick0:0, dtick:0.2, ticklabelstandoff:3,
    minor:{ticks:'inside', ticklen:7, tickwidth:2, tickcolor:'black', tick0:0, dtick:0.2/3, showgrid:false}
  }),
  yaxis: Object.assign({}, axBase, {
    domain:[0.88618, 0.99671], range:[0.1295, -0.1297], anchor:'x',
    tickmode:'array', tickvals:topTickVals, ticktext:topTickText,
    minor:{ticks:'inside', ticklen:7, tickwidth:2, tickcolor:'black', tickmode:'linear', tick0:0, dtick:0.05, showgrid:false},
    title:{text:'Rel. mag', standoff:4, font:{size:24}}
  }),
  xaxis2: Object.assign({}, axBase, {
    domain:[0.15675, 0.98984], range:[0.965, 1.035], anchor:'y2',
    tickmode:'linear', tick0:0, dtick:0.02, ticklabelstandoff:0,
    minor:{ticks:'inside', ticklen:7, tickwidth:2, tickcolor:'black', tick0:0, dtick:0.01, showgrid:false},
    title:{text:'Orbital phase', standoff:23, font:{size:24}}
  }),
  yaxis2: Object.assign({}, axBase, {
    domain:[0.05197, 0.85461], range:[0.87, 1.0061], anchor:'x2',
    tickmode:'linear', tick0:0, dtick:0.01,
    minor:{ticks:'inside', ticklen:7, tickwidth:2, tickcolor:'black', tick0:0, dtick:0.005, showgrid:false},
    title:{text:'Relative flux', standoff:10, font:{size:24}}
  }),
  annotations: annotations
};
Plotly.newPlot('chart', traces, layout, {displayModeBar:false, staticPlot:true});
</script></body></html>
